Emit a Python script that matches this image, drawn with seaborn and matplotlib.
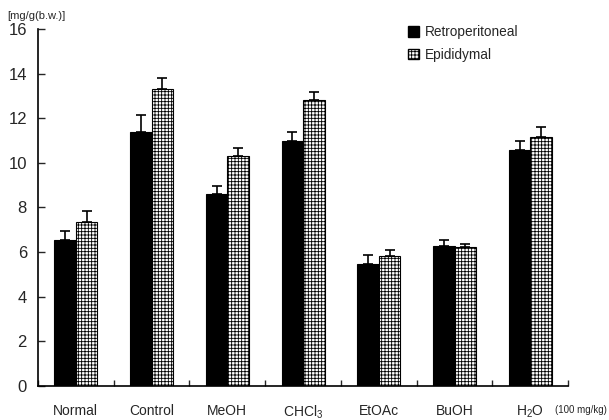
import numpy as np
import pandas as pd
import seaborn as sns
import matplotlib.pyplot as plt
from matplotlib.patches import Patch

# data
groups = ["Normal", "Control", "MeOH", "CHCl$_3$", "EtOAc", "BuOH", "H$_2$O"]
retro_mean = [6.55, 11.37, 8.59, 10.97, 5.45, 6.29, 10.59]
retro_err = [0.38, 0.77, 0.37, 0.40, 0.42, 0.24, 0.38]
epi_mean = [7.36, 13.31, 10.30, 12.82, 5.84, 6.24, 11.16]
epi_err = [0.47, 0.49, 0.38, 0.36, 0.27, 0.11, 0.46]
series = ["Retroperitoneal", "Epididymal"]

df = pd.DataFrame({
    "group": groups * 2,
    "value": retro_mean + epi_mean,
    "err": retro_err + epi_err,
    "series": [series[0]] * len(groups) + [series[1]] * len(groups),
})

sns.set_style("white")
plt.rcParams["font.family"] = ["Liberation Sans", "DejaVu Sans"]
plt.rcParams["mathtext.default"] = "regular"
plt.rcParams["hatch.linewidth"] = 0.6

fig = plt.figure(figsize=(6.09, 4.2), dpi=100)
ax = fig.add_axes([0.0624, 0.081, 0.8706, 0.85])

sns.barplot(data=df, x="group", y="value", hue="series", order=groups,
            hue_order=series, palette=["black", "white"], width=0.57, gap=0,
            errorbar=None, legend=False, ax=ax)

# style the bars and add upward-only error bars
for cont, errs in zip(ax.containers, [retro_err, epi_err]):
    xs, ys = [], []
    for p in cont.patches:
        p.set_edgecolor("black")
        p.set_linewidth(0.8)
        xs.append(p.get_x() + p.get_width() / 2)
        ys.append(p.get_height())
    ax.errorbar(xs, ys, yerr=[np.zeros(len(errs)), errs], fmt="none",
                ecolor="black", elinewidth=1.2, capsize=3.5, capthick=1.2, zorder=3)
for p in ax.containers[1].patches:
    p.set_facecolor("white")
    p.set_hatch("+++++")

ax.set_xlim(-0.5, len(groups) - 0.5)
ax.set_ylim(0, 16)
ax.set_yticks(np.arange(0, 17, 2))
ax.tick_params(axis="y", direction="in", length=5, width=1, labelsize=12, pad=8, left=True)
ax.set_xticks(np.arange(-0.5, len(groups) - 0.4, 1), minor=True)
ax.tick_params(axis="x", which="minor", direction="in", length=4, width=1, bottom=True)
ax.tick_params(axis="x", which="major", length=0, labelsize=10, pad=13)
ax.set_xlabel("")
ax.set_ylabel("")
sns.despine(ax=ax)
for s in ["left", "bottom"]:
    ax.spines[s].set_linewidth(1.2)
    ax.spines[s].set_color("black")

fig.text(0.012, 0.962, "[mg/g(b.w.)]", fontsize=8, ha="left", va="center")
fig.text(0.912, 0.024, "(100 mg/kg)", fontsize=7, ha="left", va="center")

handles = [Patch(facecolor="black", edgecolor="black", label=series[0]),
           Patch(facecolor="white", edgecolor="black", hatch="+++++", label=series[1])]
ax.legend(handles=handles, loc="upper left", bbox_to_anchor=(0.675, 1.045), frameon=False,
          fontsize=9.8, handlelength=0.8, handleheight=0.8, handletextpad=0.4, labelspacing=0.65)

fig.savefig("out.png", dpi=100)
